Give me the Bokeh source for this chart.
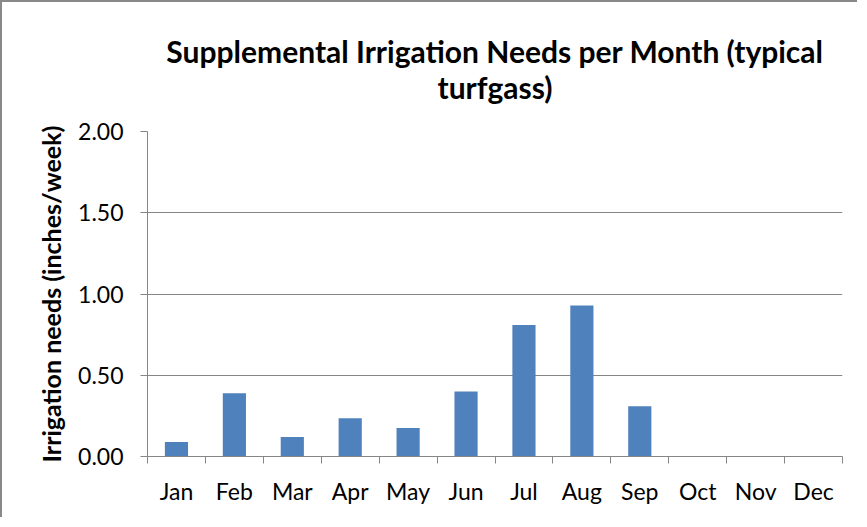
from bokeh.plotting import figure
from bokeh.models import Title, FixedTicker, NumeralTickFormatter
from bokeh.embed import file_html
from bokeh.resources import INLINE
import numpy as np

months = ["Jan", "Feb", "Mar", "Apr", "May", "Jun", "Jul", "Aug", "Sep", "Oct", "Nov", "Dec"]
needs = [0.09, 0.39, 0.12, 0.235, 0.175, 0.40, 0.81, 0.93, 0.31, 0.0, 0.0, 0.0]
title_lines = ["Supplemental Irrigation Needs per Month (typical", "turfgass)"]
y_label = "Irrigation needs (inches/week)"
y_ticks = [0.0, 0.5, 1.0, 1.5, 2.0]

FONT = "Lato"
GRAY = "#868686"

W, H = 857, 517
ML, MR, MT, MB = 145, 17, 129, 63
p = figure(width=W, height=H, output_backend="svg", toolbar_location=None,
           x_range=(0, len(months)), y_range=(0, 2.0),
           min_border_left=ML, min_border_right=MR, min_border_top=MT, min_border_bottom=MB,
           styles={"border-left": "2px solid #898989", "border-top": "2px solid #898989"})
p.outline_line_color = None
p.background_fill_color = "white"
p.border_fill_color = "white"

centers = np.arange(len(months)) + 0.5
p.vbar(x=centers, top=needs, width=0.4, bottom=0, fill_color="#4F81BD", line_color=None)

# x axis
p.xaxis.ticker = FixedTicker(ticks=list(centers), minor_ticks=list(range(len(months) + 1)))
p.xaxis.major_label_overrides = {float(c): m for c, m in zip(centers, months)}
p.xaxis.major_tick_out = 0
p.xaxis.major_tick_in = 0
p.xaxis.minor_tick_out = 7
p.xaxis.minor_tick_in = 0
p.xaxis.minor_tick_line_color = GRAY
p.xaxis.axis_line_color = GRAY
p.xaxis.major_label_text_font = FONT
p.xaxis.major_label_text_font_size = "23px"
p.xaxis.major_label_text_color = "black"
p.xaxis.major_label_standoff = 13
p.xgrid.grid_line_color = None

# y axis
p.yaxis.ticker = FixedTicker(ticks=y_ticks)
p.yaxis.formatter = NumeralTickFormatter(format="0.00")
p.yaxis.major_tick_out = 7
p.yaxis.major_tick_in = 0
p.yaxis.minor_tick_line_color = None
p.yaxis.major_tick_line_color = GRAY
p.yaxis.axis_line_color = GRAY
p.yaxis.major_label_text_font = FONT
p.yaxis.major_label_text_font_size = "23px"
p.yaxis.major_label_text_color = "black"
p.yaxis.major_label_standoff = 17
p.yaxis.axis_label = y_label
p.yaxis.axis_label_text_font = FONT
p.yaxis.axis_label_text_font_size = "25px"
p.yaxis.axis_label_text_font_style = "bold"
p.yaxis.axis_label_text_color = "black"
p.yaxis.axis_label_standoff = 9
p.ygrid.ticker = FixedTicker(ticks=y_ticks)
p.ygrid.grid_line_color = GRAY
p.ygrid.grid_line_width = 1

# title: one two-line block, each line centred
title_style = dict(text_font=FONT, text_font_size="30px", text_font_style="bold",
                   text_color="black")
try:
    t = Title(text="\n".join(title_lines), align="center", text_align="center",
              standoff=54, **title_style)
    p.add_layout(t, "above")
except Exception:
    p.add_layout(Title(text=title_lines[1], align="left", offset=275, standoff=40,
                       **title_style), "above")
    p.add_layout(Title(text=title_lines[0], align="left", offset=5, standoff=0,
                       **title_style), "above")

open("out.html", "w").write(file_html(p, INLINE))
